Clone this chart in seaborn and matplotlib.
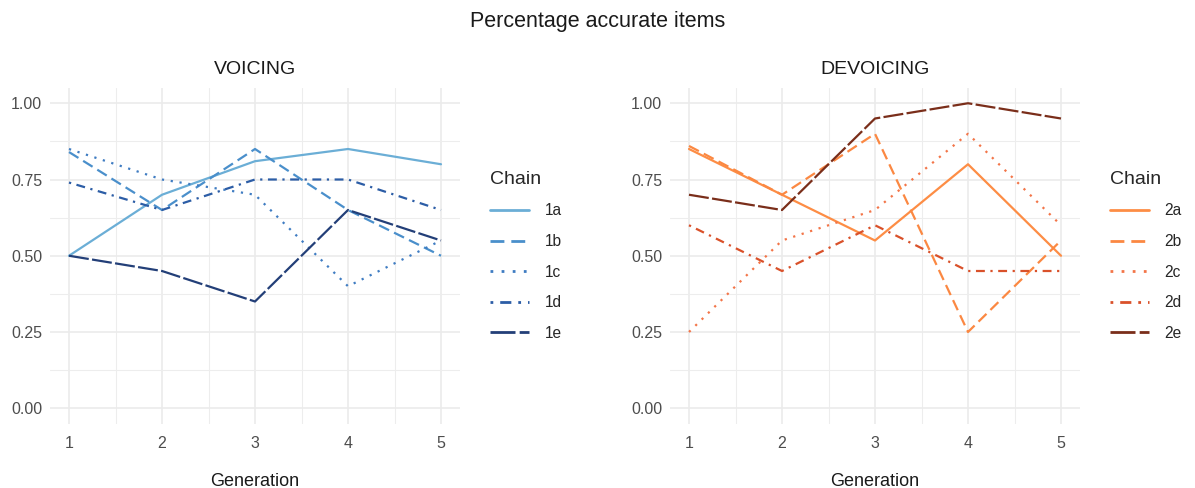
import numpy as np
import pandas as pd
import matplotlib
matplotlib.use("Agg")
import matplotlib.pyplot as plt
import seaborn as sns

generations = [1, 2, 3, 4, 5]

voicing_chains = ["1a", "1b", "1c", "1d", "1e"]
v_1a = [0.50, 0.70, 0.81, 0.85, 0.80]
v_1b = [0.84, 0.65, 0.85, 0.65, 0.50]
v_1c = [0.85, 0.75, 0.70, 0.40, 0.55]
v_1d = [0.74, 0.65, 0.75, 0.75, 0.65]
v_1e = [0.50, 0.45, 0.35, 0.65, 0.55]

devoicing_chains = ["2a", "2b", "2c", "2d", "2e"]
d_2a = [0.85, 0.70, 0.55, 0.80, 0.50]
d_2b = [0.86, 0.70, 0.90, 0.25, 0.55]
d_2c = [0.25, 0.55, 0.65, 0.90, 0.60]
d_2d = [0.60, 0.45, 0.60, 0.45, 0.45]
d_2e = [0.70, 0.65, 0.95, 1.00, 0.95]

blue_colors = ["#6BAED6", "#4A8FCB", "#3F7CC2", "#2C5DA6", "#233F78"]
orange_colors = ["#FD8D45", "#FB8842", "#F37548", "#D9512A", "#7A2E1A"]

# ggplot-like linetypes: solid, dashed, dotted, dotdash, longdash
dash_styles = ["", (5, 2.5), (1, 3), (1, 2.5, 4, 2.5), (9, 1.5)]


def make_df(chains, series):
    rows = []
    for c, vals in zip(chains, series):
        for g, v in zip(generations, vals):
            rows.append({"Generation": g, "Accuracy": v, "Chain": c})
    return pd.DataFrame(rows)


df_v = make_df(voicing_chains, [v_1a, v_1b, v_1c, v_1d, v_1e])
df_d = make_df(devoicing_chains, [d_2a, d_2b, d_2c, d_2d, d_2e])

sns.set_theme(style="white")
plt.rcParams["font.family"] = ["Liberation Sans", "DejaVu Sans"]

W, H = 1195, 488
fig = plt.figure(figsize=(W / 100, H / 100), dpi=100)


def px_axes(x0, y0, x1, y1):
    return fig.add_axes([x0 / W, 1 - y1 / H, (x1 - x0) / W, (y1 - y0) / H])


ax1 = px_axes(50.4, 88, 459.6, 423.5)
ax2 = px_axes(670.4, 88, 1079.6, 423.5)

for ax, df, chains, cols, title in [
    (ax1, df_v, voicing_chains, blue_colors, "VOICING"),
    (ax2, df_d, devoicing_chains, orange_colors, "DEVOICING"),
]:
    sns.lineplot(
        data=df, x="Generation", y="Accuracy", hue="Chain", style="Chain",
        hue_order=chains, style_order=chains,
        palette=dict(zip(chains, cols)),
        dashes=dict(zip(chains, dash_styles)),
        linewidth=1.6, ax=ax, legend=True,
    )
    ax.set_xlim(0.8, 5.2)
    ax.set_ylim(-0.05, 1.05)
    ax.set_xticks(generations)
    ax.set_xticklabels([str(g) for g in generations])
    ax.set_yticks([0, 0.25, 0.5, 0.75, 1.0])
    ax.set_yticklabels(["0.00", "0.25", "0.50", "0.75", "1.00"])
    ax.set_xticks([1.5, 2.5, 3.5, 4.5], minor=True)
    ax.set_yticks([0.125, 0.375, 0.625, 0.875], minor=True)
    ax.grid(True, which="major", color="#EBEBEB", linewidth=1.2)
    ax.grid(True, which="minor", color="#EDEDED", linewidth=0.8)
    ax.set_axisbelow(True)
    for s in ax.spines.values():
        s.set_visible(False)
    ax.tick_params(axis="both", which="both", length=0, labelsize=11.5,
                   labelcolor="#4D4D4D")
    ax.tick_params(axis="x", pad=9)
    ax.tick_params(axis="y", pad=6)
    ax.set_ylabel("")
    ax.set_xlabel("Generation", fontsize=13, color="#1A1A1A", labelpad=16)
    ax.set_title(title, fontsize=14, color="#1A1A1A", pad=10)
    sns.move_legend(
        ax, "center left", bbox_to_anchor=(1.04, 0.5), frameon=False,
        title="Chain", fontsize=11.2, title_fontsize=14,
        handlelength=2.5, handletextpad=1.0, labelspacing=1.0,
    )
    leg = ax.get_legend()
    leg._legend_box.align = "left"
    for line in leg.get_lines():
        line.set_linewidth(2.0)

fig.suptitle("Percentage accurate items", fontsize=15.5, color="#1A1A1A",
             y=1 - 21 / H, va="center")

fig.savefig("out.png", dpi=100, facecolor="white")
